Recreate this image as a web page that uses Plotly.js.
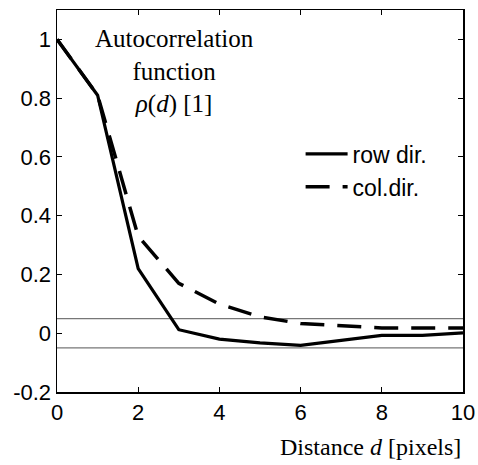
<!DOCTYPE html>
<html>
<head>
<meta charset="utf-8">
<script src="https://cdn.plot.ly/plotly-3.0.1.min.js"></script>
<style>html,body{margin:0;padding:0;background:#fff;}#chart{width:478px;height:465px;}</style>
</head>
<body>
<div id="chart"></div>
<script>
const distance = [0, 1, 2, 3, 4, 5, 6, 7, 8, 9, 10];
const rowDir = [1.0, 0.81, 0.22, 0.012, -0.02, -0.033, -0.041, -0.025, -0.007, -0.007, 0.001];
const colDir = [1.0, 0.81, 0.33, 0.17, 0.099, 0.056, 0.033, 0.025, 0.018, 0.018, 0.018];
const seriesNames = ["row dir.", "col.dir."];
const bandLevels = [0.05, -0.05];
const xTicks = [0, 2, 4, 6, 8, 10];
const yTicks = [-0.2, 0, 0.2, 0.4, 0.6, 0.8, 1];
const yTickText = ["-0.2", "0", "0.2", "0.4", "0.6", "0.8", "1"];

const traces = [
  {x: distance, y: rowDir, name: seriesNames[0], mode: "lines",
   line: {color: "#000", width: 3.2}},
  {x: distance, y: colDir, name: seriesNames[1], mode: "lines",
   line: {color: "#000", width: 3.5, dash: "24px,13px"}}
];

const shapes = bandLevels.map(v => ({
  type: "line", xref: "paper", x0: 0, x1: 1, yref: "y", y0: v, y1: v,
  line: {color: "#777", width: 1.2}, layer: "below"
}));

const layout = {
  width: 478, height: 465,
  margin: {l: 57, r: 15, t: 10, b: 73},
  paper_bgcolor: "#fff", plot_bgcolor: "#fff",
  font: {family: "Liberation Sans, Arial, sans-serif", size: 22, color: "#000"},
  showlegend: true,
  legend: {x: 0.6, y: 0.58, xanchor: "left", yanchor: "middle",
           bgcolor: "rgba(0,0,0,0)", borderwidth: 0, itemwidth: 42,
           font: {family: "Liberation Sans, Arial, sans-serif", size: 23},
           tracegroupgap: 0},
  xaxis: {range: [0, 10], tickvals: xTicks, ticks: "inside", ticklen: 5,
          showline: true, linecolor: "#000", linewidth: 1.5, mirror: "ticks",
          showgrid: false, zeroline: false, tickcolor: "#000"},
  yaxis: {range: [-0.2, 1.1], tickvals: yTicks, ticktext: yTickText,
          ticks: "inside", ticklen: 5,
          showline: true, linecolor: "#000", linewidth: 1.5, mirror: "ticks",
          showgrid: false, zeroline: false, tickcolor: "#000"},
  shapes: shapes,
  annotations: [
    {xref: "paper", yref: "paper", x: 0.29, y: 0.966, xanchor: "center", yanchor: "top",
     showarrow: false, align: "center",
     text: "Autocorrelation<br>function<br><i>ρ</i>(<i>d</i>) [1]",
     font: {family: "Liberation Serif, Times New Roman, serif", size: 25}},
    {xref: "paper", yref: "paper", x: 1, y: -0.105, xanchor: "right", yanchor: "top",
     showarrow: false,
     text: "Distance <i>d</i> [pixels]",
     font: {family: "Liberation Serif, Times New Roman, serif", size: 24}}
  ]
};

Plotly.newPlot("chart", traces, layout, {displayModeBar: false, staticPlot: true});
</script>
</body>
</html>
